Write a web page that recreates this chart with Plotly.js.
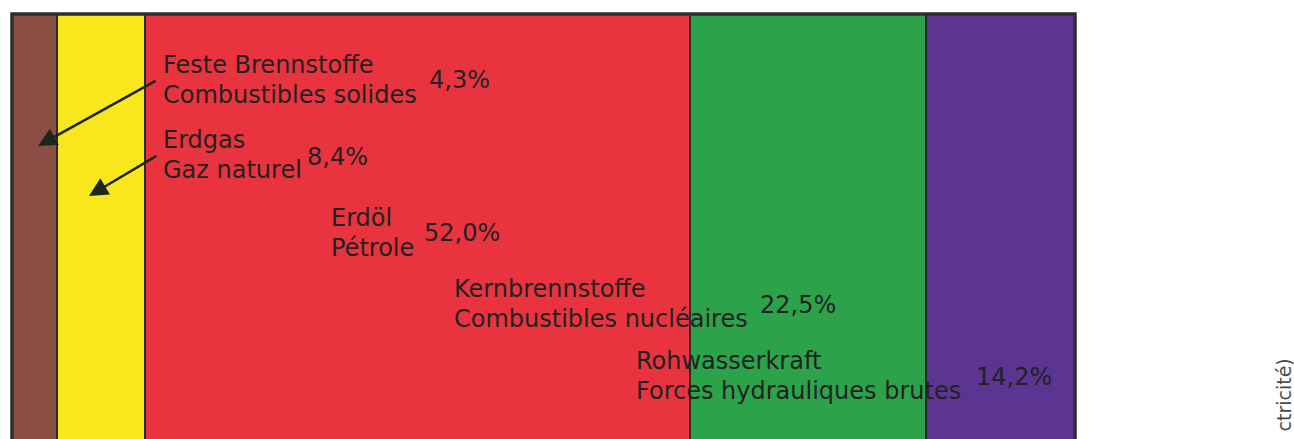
<!DOCTYPE html>
<html>
<head>
<meta charset="utf-8">
<script src="https://cdn.plot.ly/plotly-3.0.1.min.js"></script>
<style>html,body{margin:0;padding:0;background:#fff;}#chart{width:1294px;height:439px;}</style>
</head>
<body>
<div id="chart"></div>
<script>
// ---- data ----
const namesDE = ["Feste Brennstoffe", "Erdgas", "Erdöl", "Kernbrennstoffe", "Rohwasserkraft"];
const namesFR = ["Combustibles solides", "Gaz naturel", "Pétrole", "Combustibles nucléaires", "Forces hydrauliques brutes"];
const shares = [4.3, 8.4, 52.0, 22.5, 14.2];
const colors = ["#8a4e44", "#f7e71c", "#e9343f", "#2ca34a", "#5b3591"];
const sideNote = "ctricité)";

// ---- layout helpers (pixel -> paper) ----
const W = 1294, H = 439;
const M = {l: 12, r: 219, t: 14, b: 0};
const PW = W - M.l - M.r, PH = H - M.t - M.b;
const px = x => (x - M.l) / PW;
const py = y => 1 - (y - M.t) / PH;

const total = shares.reduce((a, b) => a + b, 0);
const traces = shares.map((v, i) => ({
  type: "bar", orientation: "h",
  x: [v], y: ["mix"],
  name: namesDE[i],
  marker: {color: colors[i], line: {color: "#2b2b2b", width: 2}},
  hoverinfo: "skip"
}));

// label placement (pixels): left x of names, baseline of first line, percent left x & baseline
const labelX = [162, 162, 330, 453, 635];
const labelBase = [73, 148, 226, 297, 369];
const pctX = [428, 306, 423, 759, 975];
const pctBase = [88, 165, 241, 313, 385];
const lineGap = 30;
const FS = 24;
const font = {family: "DejaVu Sans, Liberation Sans, Arial, sans-serif", size: FS, color: "#222222"};
const mid = b => b - 8;

const ann = [];
shares.forEach((v, i) => {
  ann.push({xref: "paper", yref: "paper", x: px(labelX[i]), y: py(mid(labelBase[i])), text: namesDE[i],
    showarrow: false, xanchor: "left", yanchor: "middle", font: font, borderpad: 0});
  ann.push({xref: "paper", yref: "paper", x: px(labelX[i]), y: py(mid(labelBase[i] + lineGap)), text: namesFR[i],
    showarrow: false, xanchor: "left", yanchor: "middle", font: font, borderpad: 0});
  ann.push({xref: "paper", yref: "paper", x: px(pctX[i]), y: py(mid(pctBase[i])),
    text: v.toFixed(1).replace(".", ",") + "%",
    showarrow: false, xanchor: "left", yanchor: "middle", font: font, borderpad: 0});
});
// arrows pointing to the two thin segments
const arrowTip = [[38, 146], [89, 196]];
const arrowTail = [[157, 80], [158, 155]];
arrowTip.forEach((t, i) => {
  ann.push({xref: "paper", yref: "paper", x: px(t[0]), y: py(t[1]), text: "",
    showarrow: true, arrowhead: 2, arrowsize: 1.5, arrowwidth: 2.5, arrowcolor: "#1c261c",
    ax: arrowTail[i][0] - t[0], ay: arrowTail[i][1] - t[1]});
});
// rotated side note at the right edge
ann.push({xref: "paper", yref: "paper", x: px(1283), y: py(357), text: sideNote, textangle: -90,
  showarrow: false, xanchor: "center", yanchor: "top",
  font: {family: "DejaVu Sans, Liberation Sans, Arial, sans-serif", size: 19, color: "#4a4a4a"}});

const layout = {
  width: W, height: H,
  margin: M,
  paper_bgcolor: "#ffffff", plot_bgcolor: "#ffffff",
  barmode: "stack", bargap: 0,
  showlegend: false,
  xaxis: {range: [0, total], visible: false, fixedrange: true},
  yaxis: {range: [-0.45, 0.5], visible: false, fixedrange: true},
  shapes: [{type: "rect", xref: "paper", yref: "paper", x0: 0, x1: 1, y0: -0.05, y1: 1,
    line: {color: "#2e2e2e", width: 3.5}, fillcolor: "rgba(0,0,0,0)", layer: "above"}],
  annotations: ann
};
Plotly.newPlot("chart", traces, layout, {displayModeBar: false, staticPlot: true});
</script>
</body>
</html>
